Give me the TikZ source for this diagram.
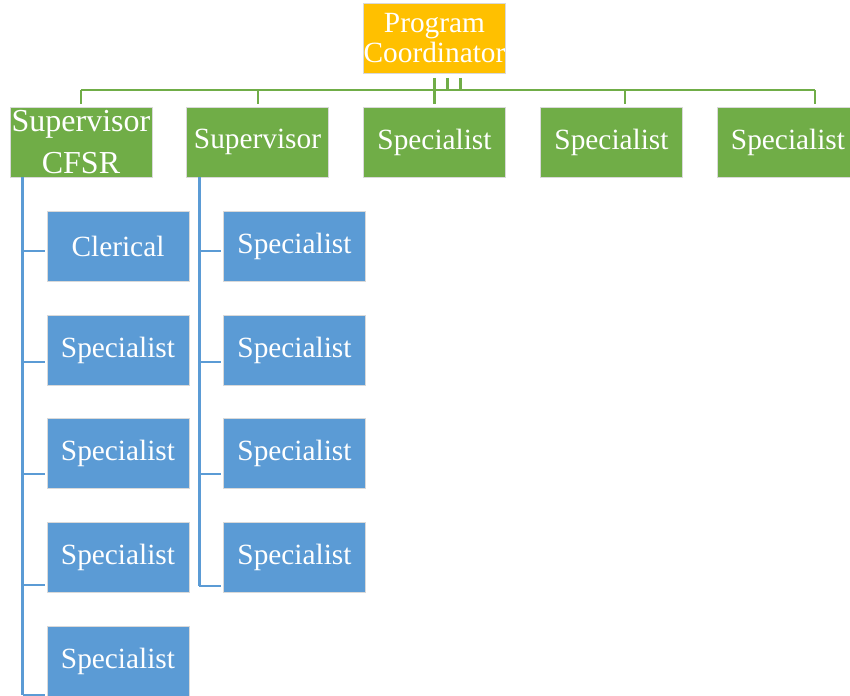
\documentclass[tikz,border=0pt]{standalone}
\usepackage{fontspec}
\setmainfont{Liberation Serif}
\definecolor{boss}{HTML}{FFC000}
\definecolor{lead}{HTML}{70AD47}
\definecolor{staff}{HTML}{5B9BD5}
\begin{document}
\begin{tikzpicture}[x=0.75pt, y=-0.75pt,
    box/.style={draw=white!85!black, line width=0.5pt, text=white, inner sep=0pt,
        minimum width=106.5pt, minimum height=52.5pt, align=center,
        font=\fontsize{22}{22.5}\selectfont},
    branch/.style={draw=lead, line width=1.7pt},
    rail/.style={draw=staff, line width=2pt}]
\useasboundingbox (0,0) rectangle (850,696);

% top
\node[box, fill=boss] (coord) at (434.5,38.5) {Program\\Coordinator};

% second row
\node[box, fill=lead, font=\fontsize{24}{31.5}\selectfont] (sup1) at (81,142) {Supervisor\\CFSR};
\node[box, fill=lead] (sup2) at (257.5,142) {Supervisor};
\foreach \x/\n in {434.5/spec1, 611.5/spec2, 788/spec3}
{
    \node[box, fill=lead] (\n) at (\x,142) {Specialist};
}

% staff columns
\node[box, fill=staff] (a1) at (118,246) {Clerical};
\foreach \y/\n in {350/a2, 453.5/a3, 557/a4, 661/a5}
{
    \node[box, fill=staff] (\n) at (118,\y) {Specialist};
}
\foreach \y/\n in {246/b1, 350/b2, 453.5/b3, 557/b4}
{
    \node[box, fill=staff] (\n) at (294.5,\y) {Specialist};
}

% green bus
\coordinate (bus) at (0,90);
\coordinate (d1) at (sup1.north);
\coordinate (d2) at ([xshift=0.5pt]sup2.north);
\coordinate (d3) at (spec1.north);
\coordinate (d4) at ([xshift=10pt]spec2.north);
\coordinate (d5) at ([xshift=20pt]spec3.north);
\draw[branch] (d1 |- bus) -- (d5 |- bus);
\foreach \n in {d1,d2,d4,d5}
{
    \draw[branch] (\n |- bus) -- ([yshift=2.25pt]\n);
}
\draw[branch] ([yshift=-3pt]coord.south) -- ([yshift=2.25pt]d3);
\coordinate (s1) at ([xshift=9.75pt, yshift=-3pt]coord.south);
\coordinate (s2) at ([xshift=19.5pt, yshift=-3pt]coord.south);
\draw[branch] (s1) -- (s1 |- bus);
\draw[branch] (s2) -- (s2 |- bus);

% blue rails
\coordinate (railA) at ([xshift=9.75pt]sup1.south west);
\coordinate (railB) at ([xshift=9.75pt]sup2.south west);
\foreach \n/\d in {a1/3.75, a2/9, a3/15.4, a4/21, a5/25.5}
{
    \coordinate (t) at ([yshift=-\d pt, xshift=-1.5pt]\n.west);
    \draw[rail, line width=1.6pt] (railA |- t) -- (t);
}
\foreach \n/\d in {b1/3.75, b2/9, b3/15.4, b4/21.75}
{
    \coordinate (t) at ([yshift=-\d pt, xshift=-1.5pt]\n.west);
    \draw[rail, line width=1.6pt] (railB |- t) -- (t);
}
\draw[rail] (railA) -- ([yshift=-25.5pt]railA |- a5.west);
\draw[rail] (railB) -- ([yshift=-21.75pt]railB |- b4.west);
\end{tikzpicture}
\end{document}
